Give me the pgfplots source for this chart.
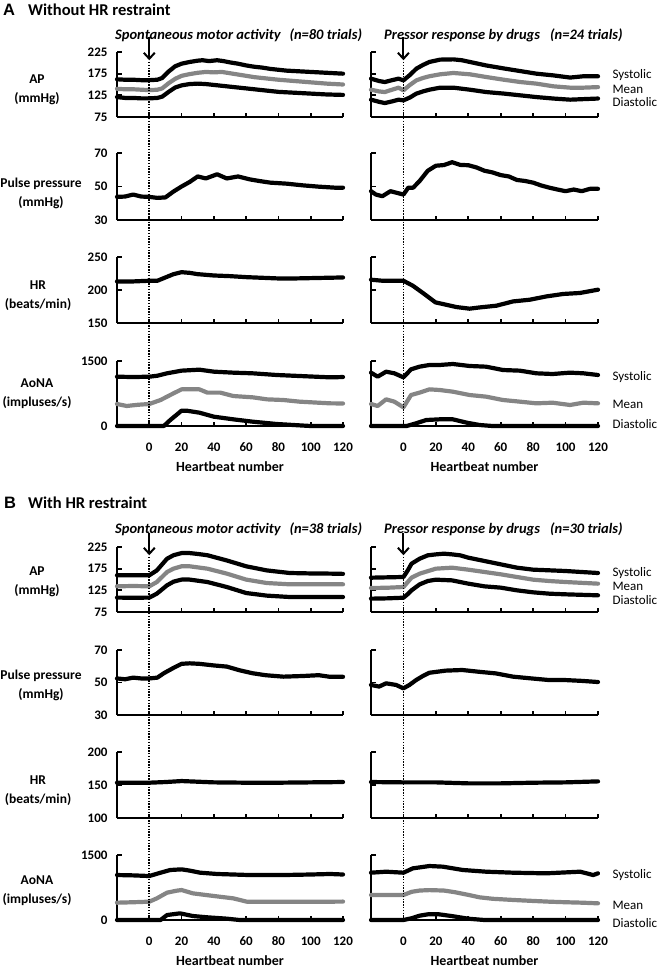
\documentclass[border=0pt]{standalone}
\usepackage{fontspec}
\setmainfont{Carlito}
\newfontfamily\arialfont{Liberation Sans}
\usepackage{pgfplots}
\pgfplotsset{compat=1.18}
\usetikzlibrary{arrows.meta}

\definecolor{meangray}{gray}{0.52}

\pgfplotsset{
  panel/.style={
    scale only axis, width=226pt, height=65pt, anchor=north west,
    axis lines=left, axis line style={line width=2.5pt,-},
    tick align=inside, major tick length=4.5pt,
    major tick style={line width=1.8pt,black},
    xmin=-20, xmax=120, xtick={0,20,...,120},
    enlargelimits=false, clip=false,
    scaled ticks=false,
    tick label style={font=\bfseries\fontsize{13}{13}\selectfont},
    /pgf/number format/assume math mode=true,
    /pgf/number format/1000 sep={},
    yticklabel style={xshift=-6pt},
    xticklabel style={yshift=-13pt},
    every axis plot/.append style={line width=4.2pt, line join=round, line cap=round, mark=none},
  },
  ap/.style={ymin=75,ymax=225,ytick={75,125,175,225}},
  pp/.style={ymin=30,ymax=70,ytick={30,50,70}},
  hrA/.style={ymin=150,ymax=250,ytick={150,200,250}},
  hrB/.style={ymin=100,ymax=200,ytick={100,150,200}},
  ao/.style={ymin=0,ymax=1500,ytick={0,1500}},
  noxl/.style={xticklabels={}},
  noyl/.style={yticklabels={}},
}

\newcommand{\lab}{\bfseries\fontsize{13.5}{19}\selectfont}
\newcommand{\sub}{\bfseries\itshape\fontsize{14.5}{14.5}\selectfont}
\newcommand{\leg}{\fontsize{13}{13}\selectfont}
\newcommand{\hb}{\bfseries\fontsize{14}{14}\selectfont}
\tikzset{evarrow/.style={-{Straight Barb[length=6pt,width=11pt]}, line width=2pt},
         zeroline/.style={line width=1.6pt, dash pattern=on 1.4pt off 1.4pt}}

\begin{document}
\begin{tikzpicture}
\useasboundingbox (0,0) rectangle (661pt,-969pt);

% ---------------- titles and labels
\node[anchor=base west, inner sep=0pt, font=\arialfont\bfseries\fontsize{16.5}{16.5}\selectfont] at (3pt,-16pt) {A};
\node[anchor=base west, inner sep=0pt, font=\bfseries\fontsize{16.5}{16.5}\selectfont] at (28pt,-16pt) {Without HR restraint};
\node[anchor=base west, inner sep=0pt, font=\arialfont\bfseries\fontsize{16.5}{16.5}\selectfont] at (4pt,-508pt) {B};
\node[anchor=base west, inner sep=0pt, font=\bfseries\fontsize{16.5}{16.5}\selectfont] at (28pt,-508pt) {With HR restraint};

\node[anchor=base west, inner sep=0pt, font=\sub] at (115pt,-39pt) {Spontaneous motor activity\hspace{0.6em}(n=80 trials)};
\node[anchor=base west, inner sep=0pt, font=\sub] at (384pt,-39pt) {Pressor response by drugs\hspace{0.7em}(n=24 trials)};
\node[anchor=base west, inner sep=0pt, font=\sub] at (115pt,-533pt) {Spontaneous motor activity\hspace{0.6em}(n=38 trials)};
\node[anchor=base west, inner sep=0pt, font=\sub] at (384pt,-533pt) {Pressor response by drugs\hspace{0.7em}(n=30 trials)};

\node[align=center, font=\lab] at (37pt,-90pt) {AP\\(mmHg)};
\node[align=center, font=\lab] at (41pt,-193pt) {Pulse pressure\\(mmHg)};
\node[align=center, font=\lab] at (38pt,-296pt) {HR\\(beats/min)};
\node[align=center, font=\lab] at (37pt,-394pt) {AoNA\\(impluses/s)};
\node[align=center, font=\lab] at (37pt,-582pt) {AP\\(mmHg)};
\node[align=center, font=\lab] at (41pt,-685pt) {Pulse pressure\\(mmHg)};
\node[align=center, font=\lab] at (38pt,-791pt) {HR\\(beats/min)};
\node[align=center, font=\lab] at (37pt,-891pt) {AoNA\\(impluses/s)};

% ================= A, spontaneous motor activity
\begin{axis}[panel, ap, noxl, at={(117pt,-52pt)}]
\addplot[black] coordinates {(-20,162)(-15,161)(-10,161)(-5,160)(0,160)(5,161)(8,165)(12,180)(16,192)(20,198)(25,202)(30,205)(33,206)(37,204)(42,206)(46,204)(50,201)(55,198)(60,194)(65,191)(70,189)(75,186)(80,184)(85,182)(90,181)(95,180)(100,179)(105,178)(110,177)(115,176)(120,175)};
\addplot[meangray] coordinates {(-20,140)(-15,139)(-10,139)(-5,138)(0,137)(5,138)(8,141)(12,153)(16,163)(20,170)(25,174)(30,177)(35,179)(40,178)(45,179)(50,176)(55,173)(60,170)(65,167)(70,165)(80,161)(90,158)(100,155)(110,152)(120,150)};
\addplot[black] coordinates {(-20,121)(-15,119)(-10,119)(-5,118)(0,118)(5,119)(8,122)(12,133)(16,143)(20,148)(25,151)(30,152)(35,151)(40,149)(45,147)(50,145)(55,143)(60,141)(70,137)(80,133)(90,131)(100,129)(110,127)(120,126)};
\draw[evarrow] (axis cs:0,260) -- (axis cs:0,206);
\coordinate (tAL) at (axis cs:0,202);
\end{axis}

\begin{axis}[panel, pp, noxl, at={(117pt,-153pt)}, height=67pt]
\addplot[black] coordinates {(-20,43.8)(-15,44)(-10,45.2)(-5,44)(0,43.8)(5,43.2)(10,43.5)(15,47)(20,50)(25,52.7)(30,56)(35,54.8)(42,57.3)(48,54.8)(55,56)(62,54.3)(68,53.3)(75,52.3)(85,51.7)(95,50.7)(105,49.9)(115,49.3)(120,49.3)};
\end{axis}

\begin{axis}[panel, hrA, noxl, at={(117pt,-257pt)}, height=66pt]
\addplot[black] coordinates {(-20,213)(-10,213)(0,214)(5,214)(10,219)(15,224)(20,227)(25,226)(30,224)(35,223)(40,222)(50,221)(60,219.5)(70,218.5)(80,217.5)(90,217.5)(100,218)(110,218.5)(120,219)};
\end{axis}

\begin{axis}[panel, ao, at={(117pt,-361pt)}]
\addplot[black] coordinates {(-20,1138)(-10,1130)(0,1138)(5,1160)(11,1216)(20,1277)(31,1300)(40,1254)(52,1231)(64,1216)(79,1177)(93,1154)(112,1123)(120,1130)};
\addplot[meangray] coordinates {(-20,508)(-14,462)(-7,490)(0,508)(7,600)(15,754)(20,846)(31,846)(36,770)(44,770)(52,692)(64,662)(73,615)(83,600)(93,562)(112,523)(120,520)};
\addplot[black] coordinates {(-20,0)(0,0)(9,0)(13,138)(20,354)(23,354)(31,308)(40,215)(52,154)(64,100)(79,46)(93,15)(100,0)(120,0)};
\node[font=\hb] at (rel axis cs:0.5,0) [yshift=-41pt] {Heartbeat number};
\coordinate (bAL) at (axis cs:0,0);
\end{axis}

% ================= A, pressor response by drugs
\begin{axis}[panel, ap, noxl, noyl, at={(371pt,-52pt)}, width=227pt]
\addplot[black] coordinates {(-20,163.5)(-15,158)(-11.5,155.7)(-7,160)(-3,163.5)(0,159.6)(4,172)(8,186.6)(12,195)(16,202)(22.6,207.4)(30.8,208)(36,206)(41,202)(51,194)(62,187)(72,181)(82,175)(92.5,171)(102.8,166)(111,169)(120,169)};
\addplot[meangray] coordinates {(-20,138)(-15,134)(-11.5,132.6)(-7,138)(-3,142.7)(0,136.5)(4,149)(8,159.6)(12,165)(16,169)(22.6,173.5)(30.8,176.6)(41,173.5)(51,167.3)(62,161)(72,155.7)(82,152)(92.5,145.8)(102.8,142.7)(111,142.7)(120,144)};
\addplot[black] coordinates {(-20,115)(-15,110)(-11.5,107.2)(-7,111)(-3,115)(0,113.4)(4,120)(8,129)(12,134)(16,138)(22.6,142.7)(30.8,142.7)(41,138)(51,132.6)(62,129)(72,125)(82,121)(92.5,117.6)(102.8,115)(120,117.6)};
\draw[evarrow] (axis cs:0,260) -- (axis cs:0,206);
\coordinate (tAR) at (axis cs:0,202);
\node[anchor=west, font=\leg] at (axis cs:120,171) [xshift=11pt] {Systolic};
\node[anchor=west, font=\leg] at (axis cs:120,139) [xshift=11pt] {Mean};
\node[anchor=west, font=\leg] at (axis cs:120,109) [xshift=11pt] {Diastolic};
\end{axis}

\begin{axis}[panel, pp, noxl, noyl, at={(371pt,-153pt)}, width=227pt, height=67pt]
\addplot[black] coordinates {(-20,47.2)(-17,45.2)(-13,44.2)(-8,47.2)(-4,46.2)(0,45.2)(3,49.3)(6,49.3)(10,53.3)(15,59.4)(20,62.4)(25,62.8)(30,64.5)(35,62.9)(40,62.7)(45,61.4)(50,59.4)(55,58.4)(60,56.8)(65,56)(70,53.9)(75,53.3)(80,52.3)(85,50.6)(90,49.3)(95,48.2)(100,47.2)(105,48.2)(110,47.2)(115,48.6)(120,48.6)};
\end{axis}

\begin{axis}[panel, hrA, noxl, noyl, at={(371pt,-257pt)}, width=227pt, height=66pt]
\addplot[black] coordinates {(-20,215.6)(-12.8,214)(0,214)(5.8,206.5)(12,195.5)(19.8,181.2)(24.3,178.8)(32.6,174.2)(40.8,171.7)(47,173.6)(57.3,176.2)(67.6,182.7)(78,185.3)(88.2,190.3)(98.6,194)(108.9,195.5)(120,200.5)};
\end{axis}

\begin{axis}[panel, ao, noyl, at={(371pt,-361pt)}, width=227pt]
\addplot[black] coordinates {(-20,1231)(-15.9,1138)(-10.7,1254)(-5.6,1216)(0,1123)(4.7,1308)(9.9,1369)(16,1408)(22.3,1408)(30.5,1431)(40.8,1385)(51,1369)(61.4,1292)(71.8,1277)(82,1216)(92,1200)(102.7,1231)(111,1216)(120,1177)};
\addplot[meangray] coordinates {(-20,508)(-15.9,462)(-10.7,615)(-5.6,562)(0,431)(4.7,715)(9.9,770)(16,846)(22.3,831)(30.5,792)(40.8,715)(51,677)(61.4,600)(71.8,562)(82,523)(92,538)(102.7,485)(111,538)(120,523)};
\addplot[black] coordinates {(-20,0)(2,0)(7.8,62)(14,138)(22.3,154)(30.5,154)(39,77)(47,23)(55,0)(120,0)};
\node[font=\hb] at (rel axis cs:0.5,0) [yshift=-41pt] {Heartbeat number};
\node[anchor=west, font=\leg] at (axis cs:120,1138) [xshift=11pt] {Systolic};
\node[anchor=west, font=\leg] at (axis cs:120,508) [xshift=11pt] {Mean};
\node[anchor=west, font=\leg] at (axis cs:120,46) [xshift=11pt] {Diastolic};
\coordinate (bAR) at (axis cs:0,0);
\end{axis}

% ================= B, spontaneous motor activity
\begin{axis}[panel, ap, noxl, at={(117pt,-547pt)}]
\addplot[black] coordinates {(-20,159.7)(-10,160)(0,159.7)(4.7,171)(11,198)(15,206)(20,211)(25,211)(30,209)(36,206)(48,194)(60,180.5)(72.8,171)(87,165)(100,164)(112,163.6)(120,163)};
\addplot[meangray] coordinates {(-20,134.3)(-10,135)(0,134.3)(4.7,144.2)(11,167.3)(15,175)(20,180.5)(25,180.5)(36,175)(48,163.6)(60,149.8)(72.8,141.9)(87,138.9)(120,138.9)};
\addplot[black] coordinates {(-20,108.2)(-10,108)(0,108.2)(4.7,117.4)(11,136.6)(15,145)(20,149.8)(25,149.8)(36,144.2)(48,132.7)(60,118.8)(72.8,112.8)(87,109.6)(120,109.6)};
\draw[evarrow] (axis cs:0,258) -- (axis cs:0,206);
\coordinate (tBL) at (axis cs:0,202);
\end{axis}

\begin{axis}[panel, pp, noxl, at={(117pt,-650pt)}]
\addplot[black] coordinates {(-20,52.5)(-15,52)(-10,53)(-5,52.5)(0,52.5)(5,53)(9,55.7)(15,59)(20,61.5)(25,61.8)(31,61.5)(40,60.5)(48,59.8)(56,57.5)(64,55.7)(72,54.5)(83,53.6)(95,54)(105,54.5)(112,53.5)(120,53.5)};
\end{axis}

\begin{axis}[panel, hrB, noxl, at={(117pt,-752pt)}, height=66pt]
\addplot[black] coordinates {(-20,153.5)(0,153.5)(10,154.5)(20,156)(30,155)(40,154)(60,153.5)(80,153.5)(100,154)(120,154.5)};
\end{axis}

\begin{axis}[panel, ao, at={(117pt,-855pt)}]
\addplot[black] coordinates {(-20,1038)(-10,1030)(0,1015)(7,1092)(13,1154)(20,1169)(25,1140)(31.5,1092)(42,1062)(62,1038)(83,1038)(100,1050)(112,1062)(120,1050)};
\addplot[meangray] coordinates {(-20,400)(-10,410)(0,423)(4.7,500)(11,631)(17,677)(20,692)(27,615)(40,554)(52,500)(60.4,423)(83,423)(112,423)(120,425)};
\addplot[black] coordinates {(-20,0)(7,0)(11,115)(19,154)(27,92)(36,62)(48,31)(56,0)(120,0)};
\node[font=\hb] at (rel axis cs:0.5,0) [yshift=-41pt] {Heartbeat number};
\coordinate (bBL) at (axis cs:0,0);
\end{axis}

% ================= B, pressor response by drugs
\begin{axis}[panel, ap, noxl, noyl, at={(371pt,-547pt)}, width=227pt]
\addplot[black] coordinates {(-20,154.2)(-10,155)(0,155.8)(2.5,170)(5,186.5)(10,198)(15,205.8)(20,208)(25,209.6)(30,208)(35,205.8)(40,200.4)(50,192.7)(60,185)(70,177.3)(80,172.7)(90,171.2)(100,169.6)(110,167.3)(120,165)};
\addplot[meangray] coordinates {(-20,130.4)(-10,131)(0,132.7)(5,154.2)(10,163.5)(20,175)(30,177.3)(40,172.7)(50,167.3)(60,162)(70,155.8)(80,149.6)(90,146.5)(100,144.2)(120,140.4)};
\addplot[black] coordinates {(-20,105.8)(-10,106.5)(0,108)(3,117.3)(5,125)(10,138.8)(15,146.5)(20,149.6)(30,148)(40,140.4)(50,134.2)(60,131.2)(70,125)(80,120.4)(90,117.3)(100,115.8)(120,113.5)};
\draw[evarrow] (axis cs:0,258) -- (axis cs:0,206);
\coordinate (tBR) at (axis cs:0,202);
\node[anchor=west, font=\leg] at (axis cs:120,165) [xshift=11pt] {Systolic};
\node[anchor=west, font=\leg] at (axis cs:120,133) [xshift=11pt] {Mean};
\node[anchor=west, font=\leg] at (axis cs:120,102) [xshift=11pt] {Diastolic};
\end{axis}

\begin{axis}[panel, pp, noxl, noyl, at={(371pt,-650pt)}, width=227pt]
\addplot[black] coordinates {(-20,48.5)(-15,47.5)(-10.7,49.5)(-4.5,48.5)(0,46.4)(3.7,48.5)(7.8,51.5)(12,54)(16,56)(26,57.3)(36.3,57.7)(46.6,56.6)(57,55.6)(67.6,53.6)(78,52.6)(90,51.5)(100,51.5)(110,51)(120,50.3)};
\end{axis}

\begin{axis}[panel, hrB, noxl, noyl, at={(371pt,-752pt)}, width=227pt, height=66pt]
\addplot[black] coordinates {(-20,154.5)(0,154)(20,154)(40,152.5)(60,152.5)(80,153.5)(100,154)(120,155.5)};
\end{axis}

\begin{axis}[panel, ao, noyl, at={(371pt,-855pt)}, width=227pt]
\addplot[black] coordinates {(-20,1092)(-10.7,1115)(0,1092)(5.8,1192)(16,1246)(24.3,1231)(36.7,1154)(51,1115)(67.6,1092)(88,1077)(109,1115)(117,1038)(120,1077)};
\addplot[meangray] coordinates {(-20,577)(0,577)(5,650)(10,680)(16,690)(25,680)(32,640)(40,580)(47,523)(55,490)(68,462)(80,440)(90,423)(100,410)(110,400)(120,385)};
\addplot[black] coordinates {(-20,0)(0,0)(5,40)(10,100)(15,131)(22,131)(30,90)(40,30)(50,0)(120,0)};
\node[font=\hb] at (rel axis cs:0.5,0) [yshift=-41pt] {Heartbeat number};
\node[anchor=west, font=\leg] at (axis cs:120,1038) [xshift=11pt] {Systolic};
\node[anchor=west, font=\leg] at (axis cs:120,346) [xshift=11pt] {Mean};
\node[anchor=west, font=\leg] at (axis cs:120,-62) [xshift=11pt] {Diastolic};
\coordinate (bBR) at (axis cs:0,0);
\end{axis}

% onset lines
\draw[zeroline] (tAL) -- (bAL);
\draw[zeroline] (tAR) -- (bAR);
\draw[zeroline] (tBL) -- (bBL);
\draw[zeroline] (tBR) -- (bBR);
\end{tikzpicture}
\end{document}
